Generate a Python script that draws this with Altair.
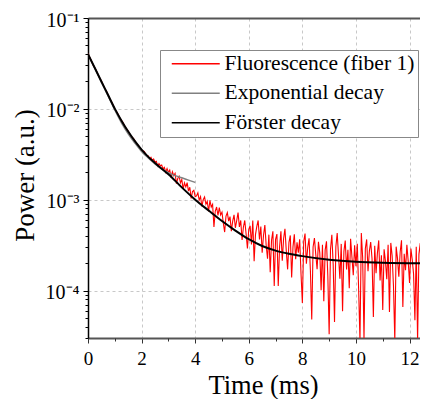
import altair as alt
import pandas as pd

SERIES = ["Fluorescence (fiber 1)", "Exponential decay", "Förster decay"]
COLORS = ["#ff0000", "#808080", "#000000"]

# Fluorescence (fiber 1): early part sampled every 0.1 ms
fluo_t_early = [0.0, 0.1, 0.2, 0.3, 0.4, 0.5, 0.6, 0.7, 0.8, 0.9, 1.0, 1.1,
                1.2, 1.3, 1.4, 1.5, 1.6, 1.7, 1.8, 1.9, 2.0, 2.1, 2.2]
fluo_v_early = [0.0405, 0.0352, 0.0300, 0.0267, 0.0228, 0.0203, 0.0173, 0.0154,
                0.0131, 0.0117, 0.0099, 0.0090, 0.0078, 0.0071, 0.0062, 0.0057,
                0.0050, 0.0047, 0.0042, 0.0039, 0.0035, 0.0034, 0.0030]
# later part sampled every 0.05 ms from 2.25 ms
fluo_t_start = 2.25
fluo_dt = 0.05
fluo_v_late = [
    0.00303, 0.00280, 0.00292, 0.00270, 0.00281, 0.00260, 0.00264, 0.00234,
    0.00249, 0.00236, 0.00240, 0.00218, 0.00227, 0.00201, 0.00220, 0.00200,
    0.00212, 0.00175, 0.00203, 0.00184, 0.00195, 0.00150, 0.00171, 0.00181,
    0.00153, 0.00167, 0.00131, 0.00153, 0.00138, 0.00154, 0.00124, 0.00137,
    0.00103, 0.00123, 0.00127, 0.00108,
    0.00110, 0.00119, 0.00099, 0.00108, 0.00084, 0.00100, 0.00107, 0.00089,
    0.00096, 0.00074, 0.00098, 0.00083, 0.00089, 0.00050, 0.00075, 0.00083,
    0.00067, 0.00082, 0.00068, 0.00073,
    0.00055, 0.00044, 0.00066, 0.00072, 0.00058, 0.00065, 0.00045, 0.00058,
    0.00068, 0.00049, 0.00059, 0.00072, 0.00050, 0.00059, 0.00036, 0.00050,
    0.00059, 0.00042, 0.00029, 0.00047,
    0.000516, 0.000321, 0.000590, 0.000210, 0.000412, 0.000508, 0.000590,
    0.000365, 0.000506, 0.000260, 0.000406, 0.000525, 0.000313, 0.000224,
    0.000412, 0.000159, 0.000360, 0.000449, 0.000112, 0.000366,
    0.000418, 0.000112, 0.000305, 0.000448, 0.000213, 0.000374, 0.000478,
    0.000273, 0.000171, 0.000339, 0.000404, 0.000139, 0.000302, 0.000415,
    0.000221, 0.000339, 0.000261, 0.000367, 0.000152, 0.000073,
    0.000345, 0.000424, 0.000197, 0.000299, 0.000376, 0.000165, 0.000048,
    0.000301, 0.000378, 0.000250, 0.000172, 0.000343, 0.000260, 0.000101,
    0.000319, 0.000076, 0.000278, 0.000348, 0.000145, 0.000033,
    0.000285, 0.000410, 0.000193, 0.000045, 0.000303, 0.000428, 0.000240,
    0.000135, 0.000326, 0.000059, 0.000270, 0.000355, 0.000170, 0.000280,
    0.000106, 0.000372, 0.000234, 0.000147, 0.000314, 0.000185,
    0.000327, 0.000103, 0.000028, 0.000430, 0.000231, 0.000029, 0.000290,
    0.000365, 0.000163, 0.000271, 0.000341, 0.000225, 0.000051, 0.000310,
    0.000155, 0.000258, 0.000356, 0.000129, 0.000245, 0.000061,
    0.000284, 0.000211, 0.000133, 0.000319, 0.000058, 0.000334, 0.000242,
    0.000113, 0.000028, 0.000304, 0.000226, 0.000142, 0.000265, 0.000357,
    0.000066, 0.000253, 0.000167, 0.000318, 0.000210, 0.000121,
    0.000289, 0.000219, 0.000152, 0.000047, 0.000303, 0.000028, 0.000252,
    0.000332, 0.000066, 0.000264, 0.000159, 0.000040, 0.000364, 0.000283,
]

exp_t = [0.0, 0.25, 0.5, 0.75, 1.0, 1.25, 1.5, 1.75, 2.0, 2.25, 2.5, 2.75,
         3.0, 3.25, 3.5, 3.75, 4.0]
exp_v = [0.040, 0.0282, 0.0197, 0.0139, 0.0097, 0.0070, 0.0053, 0.0042,
         0.0034, 0.00288, 0.00248, 0.00218, 0.00198, 0.00184, 0.00174,
         0.00164, 0.00155]

forster_t = [0.0, 0.25, 0.5, 0.75, 1.0, 1.25, 1.5, 1.75, 2.0, 2.25, 2.5, 2.75,
             3.0, 3.5, 4.0, 4.5, 5.0, 5.5, 6.0, 6.5, 7.0, 7.5, 8.0, 9.0, 10.0,
             11.0, 12.0, 12.7]
forster_v = [0.0400, 0.0283, 0.0200, 0.0142, 0.01005, 0.00740, 0.00562,
             0.00441, 0.00356, 0.00296, 0.00254, 0.00219, 0.00191, 0.001365,
             0.00100, 0.00076, 0.000582, 0.000457, 0.000367, 0.000309,
             0.000275, 0.000254, 0.000239, 0.000218, 0.000207, 0.000202,
             0.000200, 0.000200]

x_major = [0, 2, 4, 6, 8, 10, 12]
x_minor = [1, 3, 5, 7, 9, 11]
y_major = [0.1, 0.01, 0.001, 0.0001]
y_minor = [m * d for d in (1e-5, 1e-4, 1e-3, 1e-2) for m in range(2, 10) if m * d >= 3e-5]

fluo_t = fluo_t_early + [round(fluo_t_start + fluo_dt * i, 2) for i in range(len(fluo_v_late))]
fluo_v = fluo_v_early + fluo_v_late

df = pd.concat([
    pd.DataFrame({"t": fluo_t, "v": fluo_v, "series": SERIES[0]}),
    pd.DataFrame({"t": exp_t, "v": exp_v, "series": SERIES[1]}),
    pd.DataFrame({"t": forster_t, "v": forster_v, "series": SERIES[2]}),
])

FONT = "Liberation Serif"
xs = alt.Scale(domain=[0, 12.39], nice=False, zero=False)
ys = alt.Scale(type="log", domain=[3e-5, 0.1], nice=False)

color = alt.Color(
    "series:N",
    scale=alt.Scale(domain=SERIES, range=COLORS),
    legend=alt.Legend(
        title=None, orient="none", legendX=72, legendY=32,
        strokeColor="#888888", fillColor="white", padding=3,
        symbolType="M-4,0H4", symbolSize=144, symbolStrokeWidth=1.5,
        symbolOffset=22, labelOffset=18, rowPadding=6.5,
        labelFont=FONT, labelFontSize=21.5, labelFontWeight="normal",
        labelColor="black", labelLimit=400,
    ),
)

ylabel = ("datum.value >= 0.05 ? '10⁻¹' : datum.value >= 0.005 ? '10⁻²' : "
          "datum.value >= 0.0005 ? '10⁻³' : '10⁻⁴'")

ax_x_major = alt.Axis(
    values=x_major, grid=True, gridColor="#c8c8c8", gridDash=[3, 3],
    tickSize=5, tickColor="#333", domainColor="#555", domainWidth=2,
    labelFont=FONT, labelFontSize=19, labelColor="black",
    labelPadding=6, labelFlush=False,
    title="Time (ms)", titleFont=FONT, titleFontSize=26.5, titleFontWeight="normal",
    titleColor="black", titleX=175, titleY=55, titleBaseline="alphabetic",
    orient="bottom",
)
ax_y_major = alt.Axis(
    values=y_major, labelExpr=ylabel, grid=True, gridColor="#c8c8c8",
    gridDash=[3, 3], tickSize=5, tickColor="black", domainColor="black",
    domainWidth=1.5, labelFont=FONT, labelFontWeight="normal",
    labelFontSize=20, labelColor="black", labelOffset=2,
    labelPadding=4, labelFlush=False,
    title="Power (a.u.)", titleFont=FONT, titleFontSize=27,
    titleFontWeight="normal", titleColor="black", titleAngle=-90,
    titleX=-55, titleY=157, titleBaseline="alphabetic", titleAlign="center",
    orient="left",
)
ax_x_minor = alt.Axis(values=x_minor, labels=False, grid=False, domain=False,
                      tickSize=3, tickColor="#333", title=None, orient="bottom")
ax_y_minor = alt.Axis(values=y_minor, labels=False, grid=False, domain=False,
                      tickSize=3, tickColor="black", title=None, orient="left")
ax_x_top = alt.Axis(orient="top", labels=False, ticks=False, grid=False,
                    domain=True, domainColor="#555", domainWidth=2, title=None)

base = alt.Chart(df)

red = base.transform_filter(alt.datum.series == SERIES[0]).mark_line(
    strokeWidth=1.1, clip=True).encode(
    x=alt.X("t:Q", scale=xs, axis=ax_x_major),
    y=alt.Y("v:Q", scale=ys, axis=ax_y_major),
    color=color,
)
gray = base.transform_filter(alt.datum.series == SERIES[1]).mark_line(
    strokeWidth=1.5, interpolate="monotone", clip=True).encode(
    x=alt.X("t:Q", scale=xs, axis=ax_x_minor),
    y=alt.Y("v:Q", scale=ys, axis=ax_y_minor),
    color=color,
)
black = base.transform_filter(alt.datum.series == SERIES[2]).mark_line(
    strokeWidth=2, interpolate="monotone", clip=True).encode(
    x=alt.X("t:Q", scale=xs, axis=ax_x_top),
    y=alt.Y("v:Q", scale=ys, axis=None),
    color=color,
)

chart = alt.layer(red, gray, black).resolve_axis(
    x="independent", y="independent"
).properties(
    width=332, height=320,
    autosize=alt.AutoSizeParams(type="none"),
    padding={"left": 80, "top": 10, "right": 0, "bottom": 61},
).configure_view(stroke=None).configure(background="white")

chart.save("out.html", embed_options={"renderer": "svg", "actions": False})
